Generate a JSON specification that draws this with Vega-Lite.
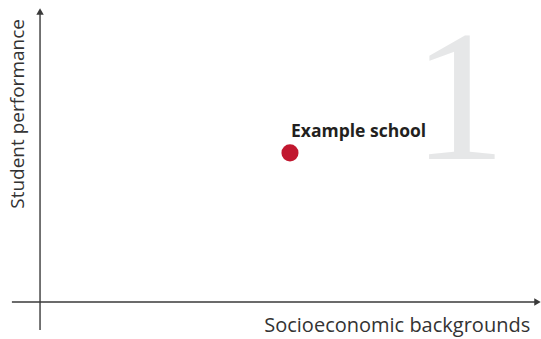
{
  "$schema": "https://vega.github.io/schema/vega-lite/v6.json",
  "width": 541,
  "height": 339,
  "padding": 0,
  "autosize": {"type": "fit", "contains": "padding"},
  "config": {"view": {"stroke": null}},
  "layer": [
    {
      "data": {"values": [
        {"name": "yaxis", "x": 7.4, "y": 2.65, "x2": 7.4, "y2": 96.5},
        {"name": "xaxis", "x": 2.2, "y": 10.9, "x2": 99.0, "y2": 10.9}
      ]},
      "mark": {"type": "rule", "color": "#3a3a3a", "strokeWidth": 1.4},
      "encoding": {
        "x": {"field": "x", "type": "quantitative", "scale": {"domain": [0, 100], "nice": false, "zero": false}, "axis": null},
        "y": {"field": "y", "type": "quantitative", "scale": {"domain": [0, 100], "nice": false, "zero": false}, "axis": null},
        "x2": {"field": "x2"},
        "y2": {"field": "y2"}
      }
    },
    {
      "data": {"values": [
        {"x": 7.4, "y": 96.6, "shape": "triangle-up"},
        {"x": 99.35, "y": 10.9, "shape": "triangle-right"}
      ]},
      "mark": {"type": "point", "filled": true, "color": "#3a3a3a", "size": 55, "opacity": 1},
      "encoding": {
        "x": {"field": "x", "type": "quantitative"},
        "y": {"field": "y", "type": "quantitative"},
        "shape": {"field": "shape", "type": "nominal", "scale": null, "legend": null}
      }
    },
    {
      "data": {"values": [{"x": 84.9, "y": 53.1, "label": "1"}]},
      "mark": {"type": "text", "font": "Liberation Serif", "fontSize": 186, "color": "#e6e7e8", "align": "center", "baseline": "alphabetic"},
      "encoding": {
        "x": {"field": "x", "type": "quantitative"},
        "y": {"field": "y", "type": "quantitative"},
        "text": {"field": "label"}
      }
    },
    {
      "data": {"values": [{"x": 53.6, "y": 54.9, "label": "Example school"}]},
      "layer": [
        {
          "mark": {"type": "point", "filled": true, "color": "#c1172f", "size": 290, "opacity": 1},
          "encoding": {
            "x": {"field": "x", "type": "quantitative"},
            "y": {"field": "y", "type": "quantitative"}
          }
        },
        {
          "mark": {"type": "text", "font": "Open Sans", "fontWeight": "bold", "fontSize": 17.5, "color": "#231f20", "align": "left", "baseline": "alphabetic", "dx": 1, "dy": -16},
          "encoding": {
            "x": {"field": "x", "type": "quantitative"},
            "y": {"field": "y", "type": "quantitative"},
            "text": {"field": "label"}
          }
        }
      ]
    },
    {
      "data": {"values": [{"x": 98.0, "y": 2.06, "label": "Socioeconomic backgrounds"}]},
      "mark": {"type": "text", "font": "Open Sans", "fontSize": 20, "color": "#333333", "align": "right", "baseline": "alphabetic"},
      "encoding": {
        "x": {"field": "x", "type": "quantitative"},
        "y": {"field": "y", "type": "quantitative"},
        "text": {"field": "label"}
      }
    },
    {
      "data": {"values": [{"x": 3.3, "y": 66.4, "label": "Student performance"}]},
      "mark": {"type": "text", "font": "Open Sans", "fontSize": 19, "color": "#333333", "align": "center", "baseline": "middle", "angle": 270},
      "encoding": {
        "x": {"field": "x", "type": "quantitative"},
        "y": {"field": "y", "type": "quantitative"},
        "text": {"field": "label"}
      }
    }
  ]
}
